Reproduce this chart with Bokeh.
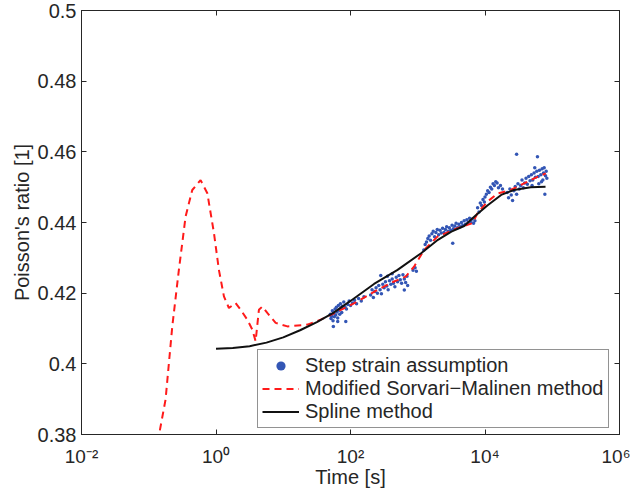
from bokeh.plotting import figure
from bokeh.models import FixedTicker, LinearAxis, LogAxis, Legend, LegendItem, Range1d
from bokeh.embed import file_html
from bokeh.resources import INLINE

# ---- data (log10 of time in s, Poisson's ratio) ----
step_logt = [1.70, 1.71, 1.72, 1.73, 1.74, 1.745, 1.75, 1.76, 1.77, 1.78, 1.79, 1.80, 1.81, 1.81, 1.82,
             1.83, 1.84, 1.85, 1.86, 1.87, 1.88, 1.90, 1.92, 1.93, 1.94, 1.96, 1.98, 2.00, 2.03,
             2.06, 2.09, 2.12, 2.16, 2.20,
             2.30, 2.32, 2.34, 2.36, 2.38, 2.40, 2.42, 2.44, 2.45, 2.46, 2.48, 2.50, 2.52, 2.54,
             2.55, 2.56, 2.58, 2.60, 2.62, 2.62, 2.64, 2.66, 2.68, 2.70, 2.72, 2.74, 2.76, 2.78,
             2.80, 2.80, 2.82, 2.84, 2.85, 2.93, 2.96, 2.98,
             3.09, 3.11, 3.13, 3.15, 3.17, 3.19, 3.21, 3.23, 3.25, 3.27, 3.29, 3.31, 3.33, 3.35,
             3.37, 3.39, 3.41, 3.43, 3.45, 3.47, 3.49, 3.51, 3.52, 3.53, 3.55, 3.57, 3.59, 3.61,
             3.63, 3.65, 3.67, 3.69, 3.71, 3.73, 3.75, 3.77, 3.79, 3.81, 3.83, 3.85,
             3.89, 3.91, 3.93, 3.95, 3.97, 3.99, 4.00, 4.02, 4.04, 4.06, 4.08, 4.10, 4.12, 4.14,
             4.16, 4.18, 4.20, 4.23, 4.26,
             4.33, 4.35, 4.37, 4.39, 4.41, 4.43, 4.45, 4.47, 4.47, 4.49, 4.51, 4.53, 4.55, 4.57,
             4.59, 4.61, 4.63, 4.65, 4.67, 4.69, 4.70, 4.71, 4.73, 4.74, 4.75, 4.77, 4.78, 4.79,
             4.80, 4.81, 4.83, 4.84, 4.85, 4.86, 4.87, 4.88, 4.89, 4.90, 4.91, 4.92]
step_nu = [0.4140, 0.4128, 0.4135, 0.4150, 0.4122, 0.4106, 0.4143, 0.4133, 0.4155, 0.4138, 0.4160, 0.4147, 0.4130, 0.4120, 0.4165,
           0.4152, 0.4140, 0.4170, 0.4158, 0.4145, 0.4163, 0.4175, 0.4160, 0.4120, 0.4155, 0.4168, 0.4178, 0.4165, 0.4172,
           0.4180, 0.4170, 0.4185, 0.4178, 0.4190,
           0.4195, 0.4210, 0.4188, 0.4205, 0.4215, 0.4200, 0.4222, 0.4210, 0.4250, 0.4198, 0.4225, 0.4215, 0.4232, 0.4220,
           0.4248, 0.4210, 0.4235, 0.4225, 0.4240, 0.4255, 0.4228, 0.4218, 0.4245, 0.4232, 0.4250, 0.4238, 0.4228, 0.4252,
           0.4240, 0.4209, 0.4230, 0.4248, 0.4222, 0.4265, 0.4272, 0.4262,
           0.4322, 0.4338, 0.4345, 0.4355, 0.4362, 0.4350, 0.4368, 0.4375, 0.4360, 0.4372, 0.4380, 0.4365, 0.4378, 0.4370,
           0.4384, 0.4372, 0.4380, 0.4388, 0.4375, 0.4385, 0.4378, 0.4392, 0.4341, 0.4382, 0.4390, 0.4398, 0.4385, 0.4395,
           0.4388, 0.4400, 0.4392, 0.4405, 0.4395, 0.4408, 0.4400, 0.4412, 0.4402, 0.4410, 0.4398, 0.4405,
           0.4442, 0.4430, 0.4455, 0.4448, 0.4465, 0.4458, 0.4472, 0.4480, 0.4490, 0.4485, 0.4500, 0.4495, 0.4510, 0.4505,
           0.4515, 0.4512, 0.4498, 0.4505, 0.4495,
           0.4485, 0.4470, 0.4495, 0.4478, 0.4462, 0.4490, 0.4502, 0.4480, 0.4593, 0.4510, 0.4495, 0.4505, 0.4520, 0.4498,
           0.4512, 0.4525, 0.4508, 0.4530, 0.4518, 0.4535, 0.4505, 0.4520, 0.4540, 0.4555, 0.4528, 0.4545, 0.4586, 0.4530,
           0.4510, 0.4548, 0.4535, 0.4515, 0.4552, 0.4520, 0.4540, 0.4555, 0.4480, 0.4532, 0.4545, 0.4525]

sm_logt = [-0.90, -0.75, -0.65, -0.552, -0.452, -0.353, -0.229, -0.129, -0.031, 0.043, 0.118, 0.192,
           0.292, 0.366, 0.466, 0.540, 0.589, 0.638, 0.689, 0.763, 0.887, 1.061, 1.359, 1.556, 1.755,
           2.102, 2.400, 2.648, 2.821, 2.945, 3.094, 3.293, 3.590, 3.813, 3.888, 4.037, 4.185, 4.384,
           4.582, 4.781, 4.905]
sm_nu = [0.3745, 0.3899, 0.4106, 0.4266, 0.4417, 0.4492, 0.4520, 0.4483, 0.4371, 0.4266, 0.4191, 0.4158,
         0.4172, 0.4153, 0.4125, 0.4097, 0.4064, 0.4153, 0.4162, 0.4144, 0.4116, 0.4106, 0.4111, 0.4125, 0.4143,
         0.4176, 0.4209, 0.4233, 0.4247, 0.4275, 0.4322, 0.4360, 0.4384, 0.4398, 0.4426, 0.4459, 0.4482, 0.4492,
         0.4511, 0.4529, 0.4539]

spline_logt = [0.0, 0.25, 0.5, 0.75, 1.0, 1.25, 1.5, 1.75, 2.0, 2.35, 2.7, 3.05, 3.3, 3.5, 3.69, 3.86,
               4.04, 4.24, 4.43, 4.68, 4.9]
spline_nu = [0.4043, 0.4045, 0.4050, 0.4060, 0.4075, 0.4095, 0.4118, 0.4145, 0.4178, 0.4226, 0.4266, 0.4313,
             0.4351, 0.4374, 0.4390, 0.4420, 0.4449, 0.4478, 0.4492, 0.4500, 0.4501]

x_ticks = [1e-2, 1.0, 1e2, 1e4, 1e6]
x_tick_labels = ["10\u207b\u00b2", "10\u2070", "10\u00b2", "10\u2074", "10\u2076"]
y_ticks = [0.38, 0.40, 0.42, 0.44, 0.46, 0.48, 0.50]
y_tick_labels = ["0.38", "0.4", "0.42", "0.44", "0.46", "0.48", "0.5"]

step_t = [10 ** v for v in step_logt]
sm_t = [10 ** v for v in sm_logt]
spline_t = [10 ** v for v in spline_logt]

FONT = "Arial"
TXT = "#262626"

p = figure(width=630, height=490, x_axis_type="log",
           x_range=Range1d(1e-2, 1e6), y_range=Range1d(0.38, 0.5),
           output_backend="svg", toolbar_location=None,
           min_border_left=81, min_border_right=11, min_border_top=10, min_border_bottom=55)
p.grid.visible = False
p.outline_line_color = TXT
p.outline_line_width = 1
p.background_fill_color = "white"
p.border_fill_color = "white"

r_step = p.scatter(step_t, step_nu, size=3.5, color="#3356b5", line_width=0)
r_sm = p.line(sm_t, sm_nu, line_color="#ff1a1a", line_width=2, line_dash="7 5")
r_sp = p.line(spline_t, spline_nu, line_color="#111111", line_width=2)

def style_axis(ax, ticks, show_labels=True):
    ax.ticker = FixedTicker(ticks=ticks, minor_ticks=[])
    ax.major_tick_in = 5
    ax.major_tick_out = 0
    ax.minor_tick_in = 0
    ax.minor_tick_out = 0
    ax.axis_line_color = TXT
    ax.major_tick_line_color = TXT
    ax.major_label_text_font = FONT
    ax.major_label_text_color = TXT
    ax.axis_label_text_font = FONT
    ax.axis_label_text_color = TXT
    ax.axis_label_text_font_style = "normal"
    if not show_labels:
        ax.major_label_text_font_size = "1px"
        ax.major_label_text_alpha = 0
        ax.major_label_standoff = 0

xa = p.xaxis[0]
style_axis(xa, x_ticks)
xa.major_label_overrides = dict(zip(x_ticks, x_tick_labels))
xa.major_label_text_font_size = "19px"
xa.major_label_standoff = 11
xa.axis_label = "Time [s]"
xa.axis_label_text_font_size = "20px"
xa.axis_label_standoff = -4

ya = p.yaxis[0]
style_axis(ya, y_ticks)
ya.major_label_overrides = dict(zip(y_ticks, y_tick_labels))
ya.major_label_text_font_size = "20px"
ya.major_label_standoff = 5
ya.axis_label = "Poisson's ratio [1]"
ya.axis_label_text_font_size = "20px"
ya.axis_label_standoff = 2

ra = LinearAxis()
style_axis(ra, y_ticks, show_labels=False)
p.add_layout(ra, "right")
ta = LogAxis()
style_axis(ta, x_ticks, show_labels=False)
p.add_layout(ta, "above")

legend = Legend(items=[LegendItem(label="Step strain assumption", renderers=[r_step]),
                       LegendItem(label="Modified Sorvari\u2212Malinen method", renderers=[r_sm]),
                       LegendItem(label="Spline method", renderers=[r_sp])],
                location=(176, 6))
legend.label_text_font = FONT
legend.label_text_font_size = "20px"
legend.label_text_color = TXT
legend.border_line_color = TXT
legend.border_line_width = 1
legend.background_fill_color = "white"
legend.background_fill_alpha = 1
legend.padding = 4
legend.spacing = 0
legend.margin = 0
legend.glyph_width = 37
legend.glyph_height = 23
legend.label_height = 23
legend.label_standoff = 6
p.add_layout(legend)

open("out.html", "w").write(file_html(p, INLINE))
